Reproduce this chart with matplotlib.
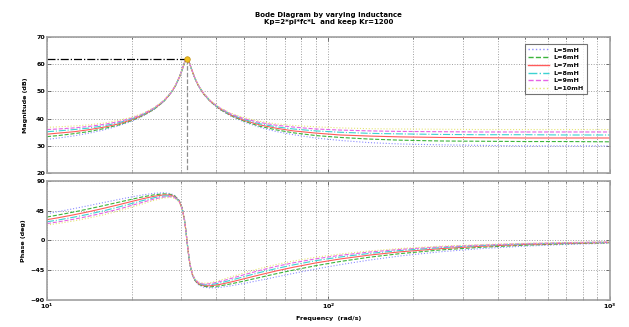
import numpy as np
import matplotlib
matplotlib.use("Agg")
import matplotlib.pyplot as plt
from matplotlib.ticker import LogLocator, NullFormatter

# frequency points (rad/s)
freq = [10, 11, 12.5, 14, 16, 18, 20, 22, 24, 26, 27.5, 28.5, 29.5, 30.2, 30.8,
        31.2, 31.42, 31.7, 32.2, 32.8, 33.5, 34.5, 36, 38, 41, 45, 50, 57, 65,
        75, 90, 110, 140, 180, 250, 350, 500, 700, 1000]

labels = ['L=5mH', 'L=6mH', 'L=7mH', 'L=8mH', 'L=9mH', 'L=10mH']

# magnitude (dB)
mag_5 = [32.4, 32.9, 33.7, 34.6, 35.9, 37.4, 39.0, 41.0, 43.3, 46.3, 49.2, 51.7, 54.9,
         57.8, 60.4, 61.6, 61.8, 61.5, 59.8, 57.3, 54.8, 52.0, 49.0, 46.2, 43.4, 40.9,
         38.8, 36.8, 35.3, 34.1, 32.9, 32.0, 31.2, 30.7, 30.4, 30.2, 30.0, 30.0, 30.0]
mag_6 = [33.4, 33.8, 34.5, 35.2, 36.4, 37.7, 39.3, 41.2, 43.4, 46.3, 49.2, 51.7, 55.0,
         57.8, 60.4, 61.7, 61.9, 61.5, 59.8, 57.3, 54.8, 52.0, 49.0, 46.3, 43.5, 41.1,
         39.1, 37.2, 35.9, 34.8, 33.8, 33.1, 32.5, 32.1, 31.8, 31.7, 31.6, 31.6, 31.5]
mag_7 = [34.3, 34.7, 35.2, 35.9, 36.9, 38.1, 39.6, 41.4, 43.6, 46.4, 49.3, 51.8, 55.0,
         57.9, 60.5, 61.7, 61.9, 61.6, 59.9, 57.4, 54.9, 52.1, 49.1, 46.4, 43.7, 41.3,
         39.4, 37.7, 36.5, 35.5, 34.7, 34.0, 33.6, 33.3, 33.1, 33.0, 32.9, 32.9, 32.9]
mag_8 = [35.2, 35.5, 36.0, 36.5, 37.4, 38.5, 39.9, 41.6, 43.7, 46.5, 49.4, 51.8, 55.1,
         57.9, 60.5, 61.7, 61.9, 61.6, 59.9, 57.4, 54.9, 52.1, 49.2, 46.5, 43.8, 41.5,
         39.7, 38.1, 37.0, 36.2, 35.5, 35.0, 34.6, 34.4, 34.2, 34.1, 34.1, 34.0, 34.0]
mag_9 = [36.0, 36.2, 36.6, 37.1, 37.9, 38.9, 40.2, 41.8, 43.9, 46.6, 49.4, 51.9, 55.1,
         58.0, 60.6, 61.8, 62.0, 61.7, 59.9, 57.5, 55.0, 52.2, 49.3, 46.6, 44.0, 41.7,
         40.0, 38.6, 37.6, 36.9, 36.2, 35.8, 35.5, 35.3, 35.2, 35.1, 35.1, 35.1, 35.1]
mag_10 = [36.8, 37.0, 37.3, 37.7, 38.4, 39.4, 40.5, 42.0, 44.0, 46.7, 49.5, 52.0, 55.2,
          58.0, 60.6, 61.8, 62.0, 61.7, 60.0, 57.5, 55.0, 52.3, 49.3, 46.7, 44.1, 42.0,
          40.4, 39.0, 38.1, 37.5, 37.0, 36.6, 36.3, 36.2, 36.1, 36.0, 36.0, 36.0, 36.0]

# phase (deg)
ph_5 = [40.2, 43.4, 48.0, 52.2, 57.3, 61.7, 65.6, 68.7, 71.0, 71.8, 70.5, 67.5, 60.3,
        49.3, 31.0, 11.9, -0.2, -15.4, -36.6, -51.6, -60.7, -67.0, -70.6, -71.8, -71.1,
        -68.6, -65.1, -60.3, -55.3, -49.9, -43.3, -36.7, -29.7, -23.5, -17.2, -12.4,
        -8.7, -6.2, -4.4]
ph_6 = [35.2, 38.4, 42.9, 47.3, 52.7, 57.6, 62.0, 65.8, 68.7, 70.2, 69.3, 66.6, 59.7,
        49.0, 30.8, 11.8, -0.2, -15.3, -36.4, -51.2, -60.1, -66.1, -69.4, -70.2, -68.8,
        -65.7, -61.5, -56.0, -50.5, -44.9, -38.3, -31.9, -25.4, -20.0, -14.5, -10.4,
        -7.3, -5.2, -3.6]
ph_7 = [31.2, 34.2, 38.7, 43.0, 48.6, 53.8, 58.7, 63.0, 66.5, 68.6, 68.2, 65.7, 59.2,
        48.6, 30.6, 11.8, -0.2, -15.2, -36.2, -50.8, -59.6, -65.3, -68.3, -68.6, -66.6,
        -62.9, -58.1, -52.1, -46.3, -40.6, -34.1, -28.1, -22.2, -17.3, -12.5, -8.9,
        -6.2, -4.5, -3.1]
ph_8 = [28.0, 30.8, 35.1, 39.3, 44.9, 50.4, 55.6, 60.3, 64.3, 67.0, 67.0, 64.9, 58.6,
        48.3, 30.5, 11.7, -0.2, -15.1, -36.0, -50.5, -59.0, -64.5, -67.1, -67.0, -64.5,
        -60.2, -54.9, -48.5, -42.7, -37.0, -30.7, -25.1, -19.7, -15.3, -11.0, -7.8,
        -5.5, -3.9, -2.7]
ph_9 = [25.3, 28.0, 32.0, 36.2, 41.7, 47.2, 52.7, 57.8, 62.3, 65.4, 65.9, 64.1, 58.1,
        47.9, 30.3, 11.7, -0.2, -15.1, -35.8, -50.1, -58.5, -63.7, -66.0, -65.4, -62.4,
        -57.6, -52.0, -45.4, -39.4, -33.9, -27.9, -22.6, -17.6, -13.6, -9.8, -7.0,
        -4.9, -3.5, -2.4]
ph_10 = [23.1, 25.6, 29.4, 33.4, 38.8, 44.4, 50.0, 55.4, 60.3, 63.9, 64.8, 63.3, 57.6,
         47.6, 30.1, 11.6, -0.2, -15.0, -35.6, -49.7, -57.9, -62.9, -64.8, -63.9, -60.4,
         -55.2, -49.2, -42.5, -36.6, -31.2, -25.5, -20.6, -16.0, -12.3, -8.8, -6.3,
         -4.4, -3.1, -2.2]

mags = [mag_5, mag_6, mag_7, mag_8, mag_9, mag_10]
phases = [ph_5, ph_6, ph_7, ph_8, ph_9, ph_10]

# resonance point
peak_w = 31.42
peak_db = 62

colors = ['#8c8cff', '#3cb43c', '#ff5a5a', '#3cd2d2', '#e664e6', '#e6e678']
styles = [':', '--', '-', '-.', '--', ':']

plt.rcParams['font.family'] = 'DejaVu Sans'
plt.rcParams['font.size'] = 4.6
plt.rcParams['font.weight'] = 'bold'

fig = plt.figure(figsize=(6.29, 3.27), dpi=100)
ax1 = fig.add_axes([0.0747, 0.4703, 0.8951, 0.4175])
ax2 = fig.add_axes([0.0747, 0.0826, 0.8951, 0.3648])

for i in range(6):
    ax1.plot(freq, mags[i], linestyle=styles[i], color=colors[i], lw=0.8, label=labels[i])
    ax2.plot(freq, phases[i], linestyle=styles[i], color=colors[i], lw=0.8)

ax1.plot([10, peak_w], [peak_db, peak_db], color='black', linestyle='-.', lw=0.9)
ax1.plot([peak_w, peak_w], [peak_db, 20], color='#909090', linestyle='--', lw=0.9)
ax1.plot([peak_w], [peak_db], 'o', color='#f0c020', markeredgecolor='#c09010',
         markersize=4, markeredgewidth=0.5)

for ax in (ax1, ax2):
    ax.set_xscale('log')
    ax.set_xlim(10, 1000)
    ax.xaxis.set_major_locator(LogLocator(base=10))
    ax.xaxis.set_minor_locator(LogLocator(base=10, subs=np.arange(2, 10)))
    ax.xaxis.set_minor_formatter(NullFormatter())
    ax.grid(True, which='major', linestyle=':', color='#a0a0a0', lw=0.7)
    ax.grid(True, which='minor', axis='x', linestyle=':', color='#a0a0a0', lw=0.7)
    ax.tick_params(which='both', direction='in', top=True, right=True,
                   width=0.5, colors='#404040', labelcolor='black', pad=1.5)
    ax.tick_params(which='major', length=3)
    ax.tick_params(which='minor', length=1.5)
    for sp in ax.spines.values():
        sp.set_color('#a0a0a0')
        sp.set_linewidth(1.2)

ax1.set_ylim(20, 70)
ax1.set_yticks([20, 30, 40, 50, 60, 70])
ax1.tick_params(labelbottom=False)
ax1.set_ylabel('Magnitude (dB)', fontweight='bold', labelpad=6)
ax1.set_title('Bode Diagram by varying Inductance\nKp=2*pi*fc*L  and keep Kr=1200',
              fontweight='bold', fontsize=5, pad=9, linespacing=1.3)

ax2.set_ylim(-90, 90)
ax2.set_yticks([-90, -45, 0, 45, 90])
ax2.set_ylabel('Phase (deg)', fontweight='bold', labelpad=3)
ax2.set_xlabel('Frequency  (rad/s)', fontweight='bold', labelpad=3)

leg = ax1.legend(loc='upper right', bbox_to_anchor=(0.965, 0.97), fontsize=4.6,
                 handlelength=3.2, handletextpad=0.8, labelspacing=0.35,
                 borderpad=0.5, fancybox=False)
leg.get_frame().set_edgecolor('#505050')
leg.get_frame().set_linewidth(0.8)
for line in leg.get_lines():
    line.set_linewidth(1.0)

fig.savefig('out.png', dpi=100)
